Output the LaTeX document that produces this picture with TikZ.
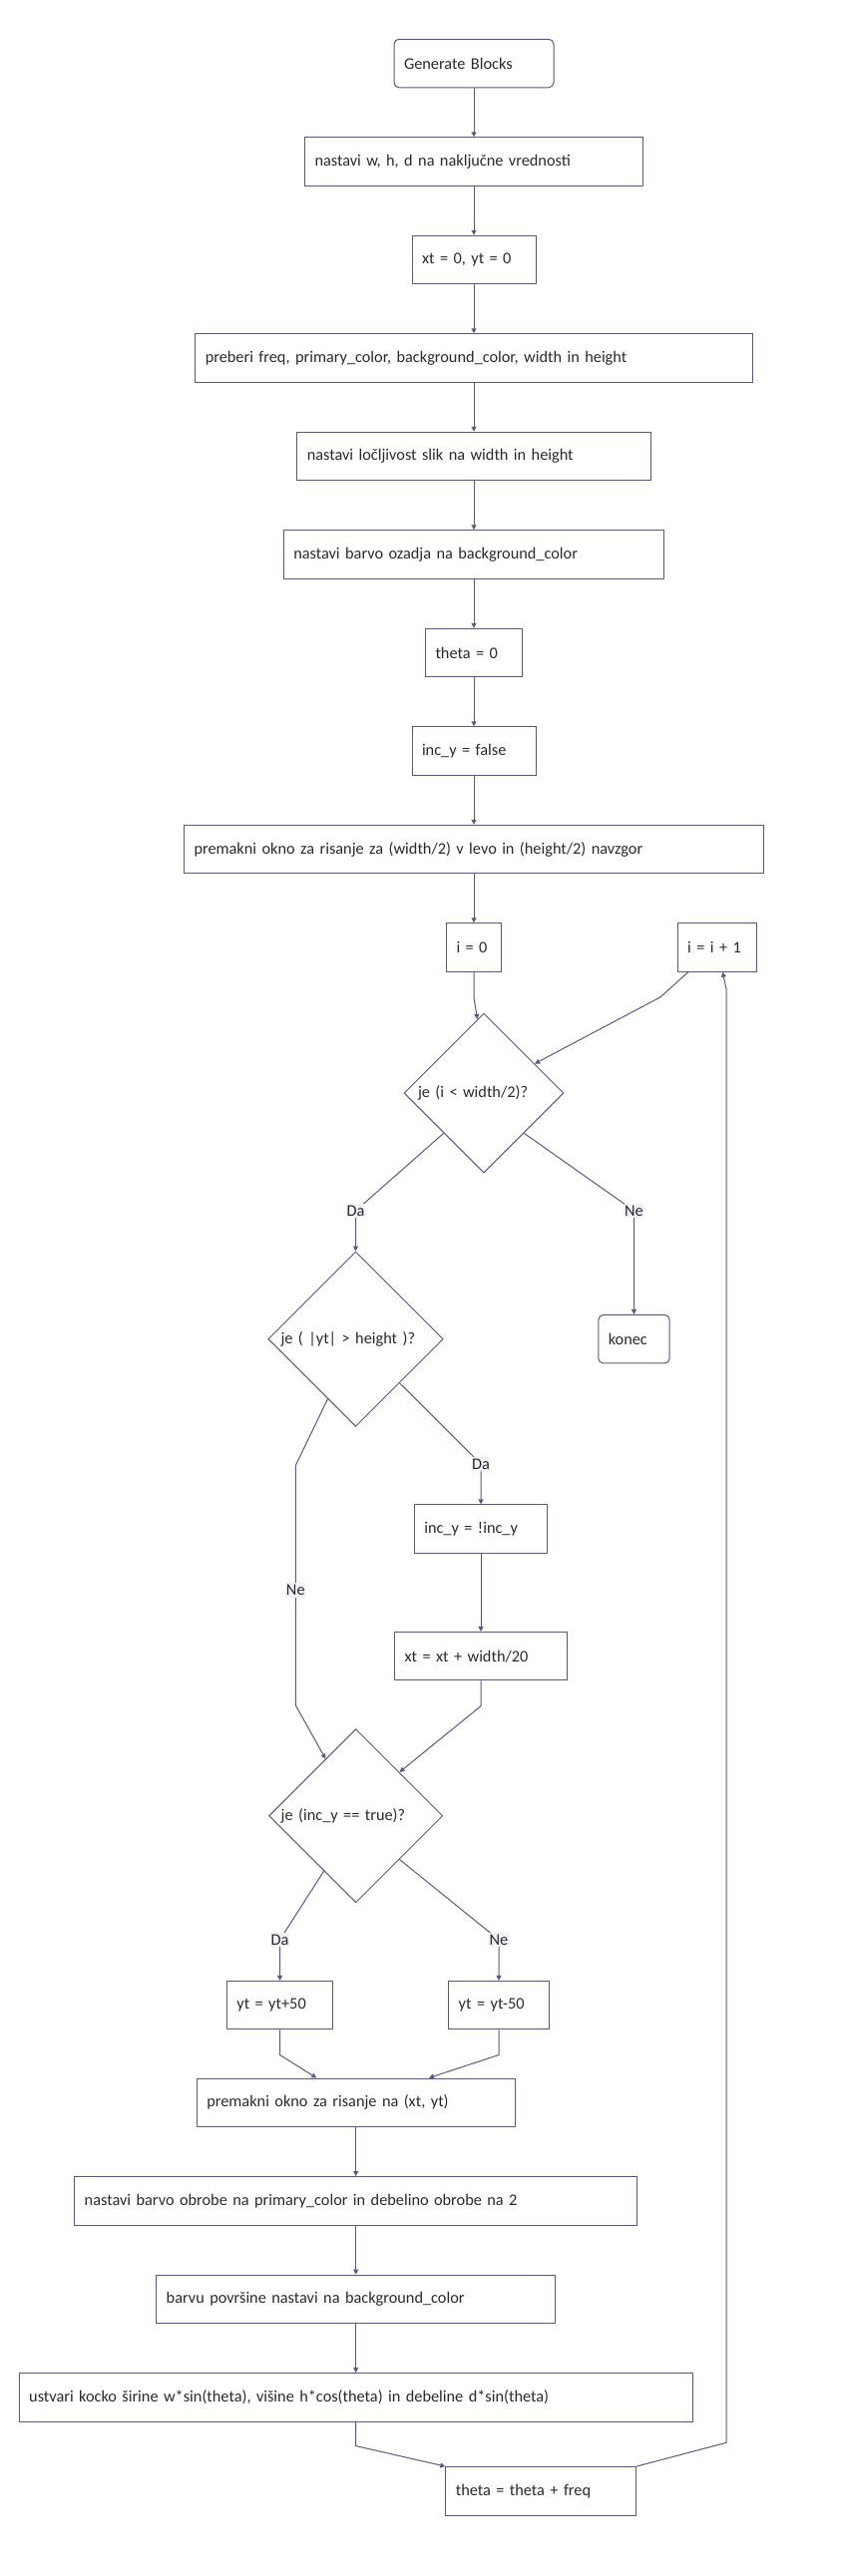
\documentclass[tikz,border=0pt]{standalone}
\usepackage{fontspec}
\setmainfont{Carlito}
\usepackage{xcolor}
\usepackage{tikz}
\usetikzlibrary{positioning, shapes.geometric, arrows.meta}

\definecolor{flowline}{HTML}{585885}
\definecolor{labelbg}{HTML}{EEF2F6}
\definecolor{txt}{HTML}{2A2A2A}

\frenchspacing

\begin{document}
\begin{tikzpicture}[
    x=1pt, y=-1pt,
    node distance=49pt,
    every node/.style={font=\fontsize{16.3}{20}\selectfont, text=txt},
    stepbox/.style={rectangle, draw=flowline, line width=1pt, fill=white, minimum height=48.5pt, inner xsep=10pt, inner ysep=0pt, align=left, text width=#1},
    termbox/.style={stepbox=#1, rounded corners=5pt},
    question/.style={diamond, aspect=1, draw=flowline, line width=1pt, fill=white, minimum width=#1, minimum height=#1, inner sep=0pt, align=left},
    flow/.style={draw=flowline, line width=1pt, -{Triangle[length=5pt, width=5pt]}},
    edge_label/.style={fill=labelbg, inner xsep=0.5pt, inner ysep=2pt}
]
\useasboundingbox (0,0) rectangle (843,2583);

% Nodes (upper column)
\node[termbox=140pt] (n1) at (475,63.5) {Generate Blocks};
\node[stepbox=319pt, below=of n1] (n2) {nastavi w, h, d na naključne vrednosti};
\node[stepbox=104pt, below=of n2] (n3) {xt = 0, yt = 0};
\node[stepbox=538.5pt, below=of n3] (n4) {preberi freq, primary\_color, background\_color, width in height};
\node[stepbox=334.5pt, below=of n4] (n5) {nastavi ločljivost slik na width in height};
\node[stepbox=361.5pt, below=of n5] (n6) {nastavi barvo ozadja na background\_color};
\node[stepbox=77pt, below=of n6] (n7) {theta = 0};
\node[stepbox=104pt, below=of n7] (n8) {inc\_y = false};
\node[stepbox=561pt, below=of n8] (n9) {premakni okno za risanje za (width/2) v levo in (height/2) navzgor};
\node[stepbox=35pt, below=of n9] (n10) {i = 0};
\node[stepbox=59.6pt, right=175.7pt of n10] (n11) {i = i + 1};

% Decisions
\node[question=160pt, text width=132pt] (q1) at (485,1096) {je (i < width/2)?};
\node[termbox=51.4pt] (n12) at (635.5,1342.7) {konec};
\node[question=175.4pt, text width=150pt] (q2) at (356.5,1342.7) {je ( |yt| > height )?};
\node[stepbox=113.4pt] (n13) at (482,1533.2) {inc\_y = !inc\_y};
\node[stepbox=153pt, below=78pt of n13] (n14) {xt = xt + width/20};
\node[question=174pt, text width=150pt] (q3) at (356.7,1820.7) {je (inc\_y == true)?};
\node[stepbox=86.4pt] (n15) at (280.5,2010.7) {yt = yt+50};
\node[stepbox=80.6pt] (n16) at (500,2010.7) {yt = yt-50};

% Nodes (lower column)
\node[stepbox=298.8pt] (n17) at (356.7,2108.3) {premakni okno za risanje na (xt, yt)};
\node[stepbox=544pt, below=of n17] (n18) {nastavi barvo obrobe na primary\_color in debelino obrobe na 2};
\node[stepbox=380pt, below=of n18] (n19) {barvu površine nastavi na background\_color};
\node[stepbox=655pt, below=of n19] (n20) {ustvari kocko širine w*sin(theta), višine h*cos(theta) in debeline d*sin(theta)};
\node[stepbox=170.8pt] (n21) at (542.2,2497.8) {theta = theta + freq};

% Edges
\draw[flow] (n1) -- (n2);
\draw[flow] (n2) -- (n3);
\draw[flow] (n3) -- (n4);
\draw[flow] (n4) -- (n5);
\draw[flow] (n5) -- (n6);
\draw[flow] (n6) -- (n7);
\draw[flow] (n7) -- (n8);
\draw[flow] (n8) -- (n9);
\draw[flow] (n9) -- (n10);
\draw[flow] (n10.south) -- ++(0,25.7) -- (q1.95);
\draw[flow] ([xshift=11pt]n11.south west) -- ++(-27.6,25) -- (q1.30);
\draw[flow] (q1.south west) -- (356.5,1214) node[edge_label] (l1) {Da} -- (q2.north);
\draw[flow] (q1.south east) -- (635.5,1214) node[edge_label] (l2) {Ne} -- (n12.north);
\draw[flow] (q2.south east) -- (482,1468) node[edge_label] (l3) {Da} -- (n13.north);
\draw[flow] (q2.245) -- (296.3,1469.5) -- node[edge_label, pos=0.52] (l4) {Ne} (296.3,1709.8) -- (q3.118);
\draw[flow] (n13) -- (n14);
\draw[flow] (n14.south) -- ++(0,25.2) -- (q3.north east);
\draw[flow] (q3.240) -- (280.5,1945) node[edge_label] (l5) {Da} -- (n15.north);
\draw[flow] (q3.south east) -- (500,1945) node[edge_label] (l6) {Ne} -- (n16.north);
\draw[flow] (n15.south) -- ++(0,25) -- ([xshift=-39.4pt]n17.north);
\draw[flow] (n16.south) -- ++(0,25) -- ([xshift=73.3pt]n17.north);
\draw[flow] (n17) -- (n18);
\draw[flow] (n18) -- (n19);
\draw[flow] (n19) -- (n20);
\draw[flow] (n20.south) -- ++(0,24) -- (n21.north west);

% Loop back (theta -> i)
\draw[flow] (n21.north east) -- (728,2449.3) -- (728,991.7) -- ([xshift=5.4pt]n11.south);

\end{tikzpicture}
\end{document}
